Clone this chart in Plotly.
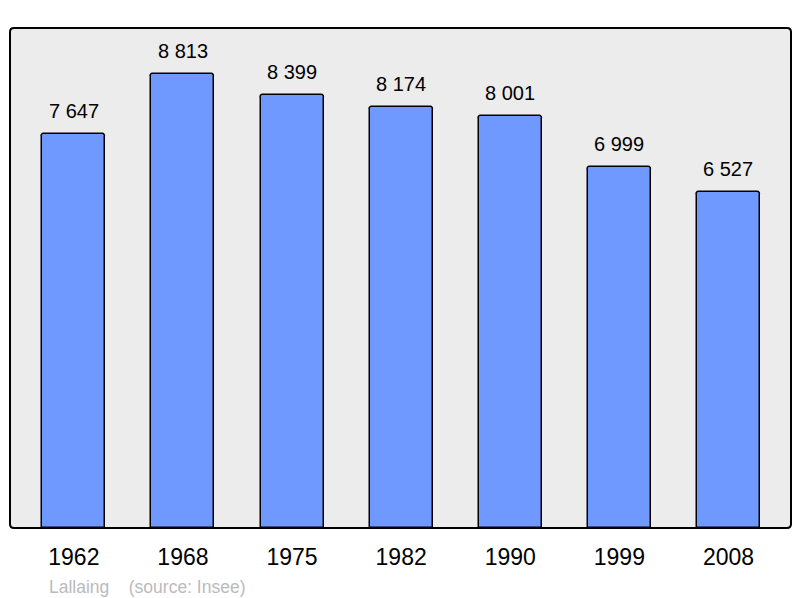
import plotly.graph_objects as go

years = ["1962", "1968", "1975", "1982", "1990", "1999", "2008"]
population = [7647, 8813, 8399, 8174, 8001, 6999, 6527]
labels = ["7 647", "8 813", "8 399", "8 174", "8 001", "6 999", "6 527"]
commune = "Lallaing"
source = "(source: Insee)"

fig = go.Figure()
fig.add_trace(go.Bar(
    x=list(range(len(years))), y=population,
    width=0.578,
    marker=dict(color="#7099ff", line=dict(color="black", width=1.5), cornerradius=3),
    hoverinfo="skip",
))

for i, (v, t) in enumerate(zip(population, labels)):
    fig.add_annotation(x=i, y=v, text=t, showarrow=False, yanchor="bottom",
                       yshift=10, font=dict(size=20, color="black", family="Liberation Sans, Arial"))

fig.add_annotation(xref="paper", yref="paper", x=0.048, y=-0.093, xanchor="left", yanchor="top",
                   text=commune + "&nbsp;&nbsp;&nbsp;&nbsp;" + source, showarrow=False,
                   font=dict(size=17.5, color="#bbbbbb", family="Liberation Sans, Arial"))

# rounded border around the plot area
rx, ry = 4 / 783, 4 / 501
path = (f"M {rx},0 L {1-rx},0 Q 1,0 1,{ry} L 1,{1-ry} Q 1,1 {1-rx},1 "
        f"L {rx},1 Q 0,1 0,{1-ry} L 0,{ry} Q 0,0 {rx},0 Z")
fig.add_shape(type="path", xref="paper", yref="paper", path=path,
              line=dict(color="black", width=2), layer="above")

fig.update_layout(
    width=800, height=598,
    margin=dict(l=10, r=9, t=28, b=70),
    paper_bgcolor="white", plot_bgcolor="#ececec",
    showlegend=False,
    bargap=0,
    xaxis=dict(range=[-0.585, 6.573], tickmode="array", tickvals=list(range(len(years))),
               ticktext=years, ticks="outside", ticklen=8, tickcolor="rgba(0,0,0,0)",
               showgrid=False, zeroline=False, showline=False,
               tickfont=dict(size=23, color="black", family="Liberation Sans, Arial")),
    yaxis=dict(range=[0, 9700], visible=False, showgrid=False, zeroline=False),
)

fig.write_html("out.html", config={"displayModeBar": False},
               post_script="document.body.style.margin='0';document.body.style.overflow='hidden';")
